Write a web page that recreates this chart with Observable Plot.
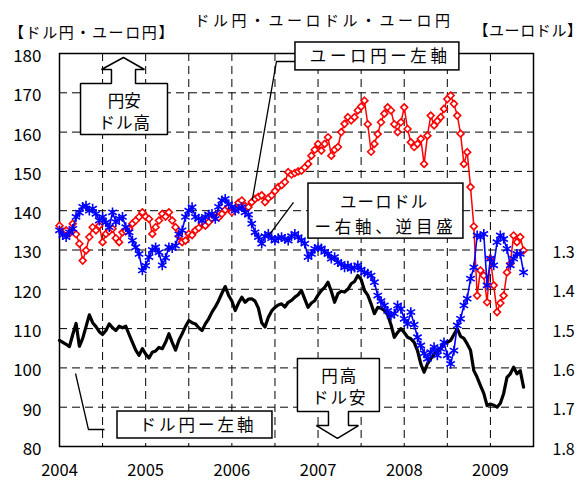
<!DOCTYPE html>
<html><head><meta charset="utf-8">
<script src="https://cdn.jsdelivr.net/npm/d3@7"></script>
<script src="https://cdn.jsdelivr.net/npm/@observablehq/plot@0.6"></script>
<style>
html,body{margin:0;padding:0;background:#fff}
#chart svg{display:block}
</style>
</head><body><div id="chart"></div>
<script>
// ---------- DATA (biweekly observations from the start of 2004) ----------
const startYear = 2004;
const obsPerYear = 26;
const usdjpy = [
107,106.5,106,105.4,108.5,111.3,105.5,107.5,110.5,113.5,
111.5,110.5,109.2,108.5,109.5,111.2,110.2,109.5,110.6,110.2,
110.6,108.5,106.5,104.5,103.2,104.9,103.5,102.5,104,104.3,
105.2,104.9,106.5,108.7,106.5,104.5,107,108.7,110.5,112,
111.5,111.2,110.2,109.5,111.2,112.5,114.2,115.5,117.1,119,
120.7,118.5,117,114.6,116.5,118,116.7,117.5,117.6,117,
115.2,111.5,110.4,112.9,114.5,115.4,116,116.3,115.5,116.7,
117.2,118,118.6,119.7,117.5,115.4,116.5,117.1,118.5,119.7,
120.5,121.8,119.5,116.7,118.9,119.5,119.3,120,121.4,122,
123.5,122.5,119.7,118.5,116.3,113.8,115.4,115.2,114.6,113.5,
111,107.8,109,110,109,107.8,107.4,106.5,104.4,101,
98.9,101,102.3,103.5,104.4,105,106.2,106.5,107,108.5,
110,108,107.5,106.1,104.5,99.3,97.6,95.5,93.5,90.4,
90.8,90.5,90,91,93.5,97.6,98.5,100.2,98.5,99.3,
95.1];
const eurjpy = [
136.2,134.5,135,134.2,136.7,134,131.6,127.3,129.9,133.3,
135.8,135,136.2,132,134.1,134.8,135.4,133,132,134.5,
134.8,135.4,136.7,137.5,138.4,139.6,138.5,137.9,134.1,135.8,
137.5,139.2,138.5,139.6,137.5,135.8,133.5,132,132.4,134.1,
133.8,135,135.6,136.7,136.2,137.1,138,138.8,138.3,139.2,
140.2,140.9,139.6,140.5,142,142.6,141.2,140.9,142.2,143,
143.5,143.9,142.2,143.2,143.9,145,146,146.5,147.3,149.8,
149.2,149.6,150,150.2,151,151.9,154,155.5,157,155.3,
157,158.7,154,155.5,156.2,160,162.1,163.8,163,163.8,
165.5,166.5,168,162,155,157,159.5,162.5,164.7,166.3,
165.5,162,160,162.5,166.3,160.8,157.4,156.2,157,158.3,
151.9,159.1,164.2,161.7,162.8,163.8,165.9,168.4,169.3,167.2,
164.2,159.6,151.9,154.9,146,136,118.4,124.8,123.5,116.7,
127.8,121,114.2,116.5,118.4,124.3,126.5,133.7,132,133.3,
129.9];
const eurusd = [
1.25,1.262,1.267,1.255,1.246,1.216,1.205,1.19,1.187,1.2,
1.195,1.208,1.225,1.216,1.23,1.242,1.204,1.229,1.22,1.216,
1.242,1.255,1.276,1.293,1.31,1.352,1.34,1.318,1.3,1.293,
1.306,1.339,1.32,1.293,1.295,1.289,1.26,1.25,1.216,1.2,
1.191,1.216,1.22,1.225,1.216,1.21,1.208,1.221,1.19,1.174,
1.17,1.183,1.19,1.2,1.195,1.191,1.204,1.21,1.233,1.255,
1.267,1.284,1.265,1.259,1.27,1.276,1.27,1.267,1.272,1.276,
1.265,1.259,1.267,1.275,1.284,1.318,1.31,1.297,1.293,1.296,
1.305,1.31,1.322,1.318,1.331,1.335,1.344,1.34,1.348,1.345,
1.339,1.35,1.357,1.36,1.365,1.382,1.416,1.43,1.441,1.455,
1.467,1.462,1.441,1.45,1.475,1.488,1.458,1.49,1.522,1.543,
1.563,1.577,1.56,1.547,1.568,1.551,1.535,1.568,1.59,1.556,
1.492,1.475,1.441,1.424,1.373,1.344,1.263,1.267,1.259,1.39,
1.322,1.339,1.28,1.263,1.272,1.297,1.339,1.322,1.31,1.31,
1.357];

const leftTicks = [80,90,100,110,120,130,140,150,160,170,180];
const rightTicks = [1.3,1.4,1.5,1.6,1.7,1.8];
const yearTicks = [2004,2005,2006,2007,2008,2009];
const gridY = [90,100,110,120,130,140,150,160,170];
const gridX = [2004.5,2005,2005.5,2006,2006.5,2007,2007.5,2008,2008.5,2009];

const title = "ドル円・ユーロドル・ユーロ円";
const leftLabel = "【ドル円・ユーロ円】";
const rightLabel = "【ユーロドル】";

// ---------- annotations (in data units: year, yen) ----------
const boxes = [
  {x1: 2006.738, x2: 2008.640, y1: 175.7, y2: 182.8},
  {x1: 2006.889, x2: 2008.687, y1: 132.9, y2: 146.9},
  {x1: 2004.673, x2: 2006.471, y1: 82.04, y2: 88.9}
];
const boxTexts = [
  {x: 2007.70, y: 179.1, text: "ユーロ円ー左軸", ls: 3.6},
  {x: 2007.76, y: 142.0, text: "ユーロドル", ls: 1.2},
  {x: 2007.76, y: 135.6, text: "ー右軸、逆目盛", ls: 3.8},
  {x: 2005.59, y: 85.4, text: "ドル円ー左軸", ls: 3.0},
  {x: 2004.75, y: 167.8, text: "円安", ls: 0},
  {x: 2004.75, y: 162.2, text: "ドル高", ls: 1},
  {x: 2007.24, y: 97.7, text: "円高", ls: 2},
  {x: 2007.24, y: 92.1, text: "ドル安", ls: 2}
];
const leaders = [
  {id: "a", pts: [[2006.738,177.96],[2006.517,177.96],[2006.236,142.6]]},
  {id: "b", pts: [[2006.715,142.1],[2006.436,133.9]]},
  {id: "c", pts: [[2004.186,98.58],[2004.336,84.33],[2004.522,84.33]]}
];
const upArrow = [[2004.244,159.4],[2004.244,172.37],[2004.603,172.37],[2004.603,175.93],[2004.487,175.93],
  [2004.742,178.98],[2004.986,175.93],[2004.882,175.93],[2004.882,172.37],[2005.253,172.37],[2005.253,159.4],[2004.244,159.4]];
const downArrow = [[2006.761,102.39],[2007.712,102.39],[2007.712,88.9],[2007.353,88.9],[2007.353,85.34],[2007.469,85.34],
  [2007.225,82.04],[2006.981,85.34],[2007.121,85.34],[2007.121,88.9],[2006.761,88.9],[2006.761,102.39]];

// ---------- build ----------
const toLeft = e => 130 - (e - 1.3) * 100;
const fromLeft = v => (130 - v) / 100 + 1.3;
const obs = usdjpy.map((v, i) => ({t: startYear + i / obsPerYear, usdjpy: v, eurjpy: eurjpy[i], eurusd: eurusd[i]}));
const leaderPts = leaders.flatMap(l => l.pts.map(p => ({id: l.id, x: p[0], y: p[1]})));
const FONT = "'Noto Sans CJK JP', 'Noto Sans', sans-serif";

const plot = Plot.plot({
  width: 582, height: 480,
  marginLeft: 59, marginRight: 49, marginTop: 53, marginBottom: 34,
  style: {fontFamily: FONT, fontSize: "17px", color: "#000", background: "#fff", overflow: "visible"},
  x: {domain: [2004, 2009.5], axis: null},
  y: {domain: [80, 180], axis: null},
  marks: [
    Plot.ruleY(gridY, {stroke: "#000", strokeWidth: 1, strokeDasharray: "8,5"}),
    Plot.ruleX(gridX, {stroke: "#000", strokeWidth: 1, strokeDasharray: "8,5"}),
    Plot.frame({stroke: "#000", strokeWidth: 1.5}),
    Plot.axisY(leftTicks, {anchor: "left", tickSize: 0, tickPadding: 18, fontSize: 17, dy: 3, label: null}),
    Plot.axisY(rightTicks.map(toLeft), {anchor: "right", tickSize: 0, tickPadding: 19, fontSize: 16, dy: 3, label: null,
      tickFormat: v => fromLeft(v).toFixed(1)}),
    Plot.axisX(yearTicks, {anchor: "bottom", tickSize: 0, tickPadding: 18, fontSize: 16.5, label: null, tickFormat: d => String(d)}),
    Plot.line(obs, {x: "t", y: "usdjpy", stroke: "#000", strokeWidth: 3.2}),
    Plot.line(obs, {x: "t", y: "eurjpy", stroke: "#ff0000", strokeWidth: 1.5}),
    Plot.dot(obs, {x: "t", y: "eurjpy", symbol: "diamond2", r: 3.1, stroke: "#ff0000", fill: "#fff", strokeWidth: 1.6}),
    Plot.line(obs, {x: "t", y: d => toLeft(d.eurusd), stroke: "#0000ff", strokeWidth: 1.6}),
    Plot.dot(obs, {x: "t", y: d => toLeft(d.eurusd), symbol: "asterisk", r: 4.6, stroke: "#0000ff", strokeWidth: 1.6}),
    Plot.line(leaderPts, {x: "x", y: "y", z: "id", stroke: "#000", strokeWidth: 1.3, strokeLinecap: "butt"}),
    Plot.rect(boxes, {x1: "x1", x2: "x2", y1: "y1", y2: "y2", fill: "#fff", stroke: "#000", strokeWidth: 1.5}),
    Plot.line(upArrow, {x: d => d[0], y: d => d[1], fill: "#fff", stroke: "#000", strokeWidth: 1.5, strokeLinejoin: "miter"}),
    Plot.line(downArrow, {x: d => d[0], y: d => d[1], fill: "#fff", stroke: "#000", strokeWidth: 1.5, strokeLinejoin: "miter"}),
    Plot.text(boxTexts, {x: "x", y: "y", text: "text", fontSize: 16.5, fill: "#000"})
  ]
});
document.getElementById("chart").appendChild(plot);

const svg = d3.select(plot);
const spacing = new Map(boxTexts.map(d => [d.text, d.ls]));
svg.selectAll("text").each(function() {
  const t = this.textContent;
  if (spacing.has(t)) {
    const ls = spacing.get(t);
    d3.select(this).style("letter-spacing", ls + "px").attr("dx", ls / 2);
  }
});
const addText = (x, y, txt, size, anchor, ls) => svg.append("text")
  .attr("x", x).attr("y", y).attr("text-anchor", anchor)
  .attr("font-family", FONT).attr("font-size", size).style("letter-spacing", ls)
  .attr("fill", "#000").text(txt);
addText(324, 26, title, 15, "middle", "3.5px");
addText(92, 37.5, leftLabel, 15, "middle", "1.6px");
addText(528, 35.5, rightLabel, 15, "middle", "0.6px");
</script>
</body></html>
